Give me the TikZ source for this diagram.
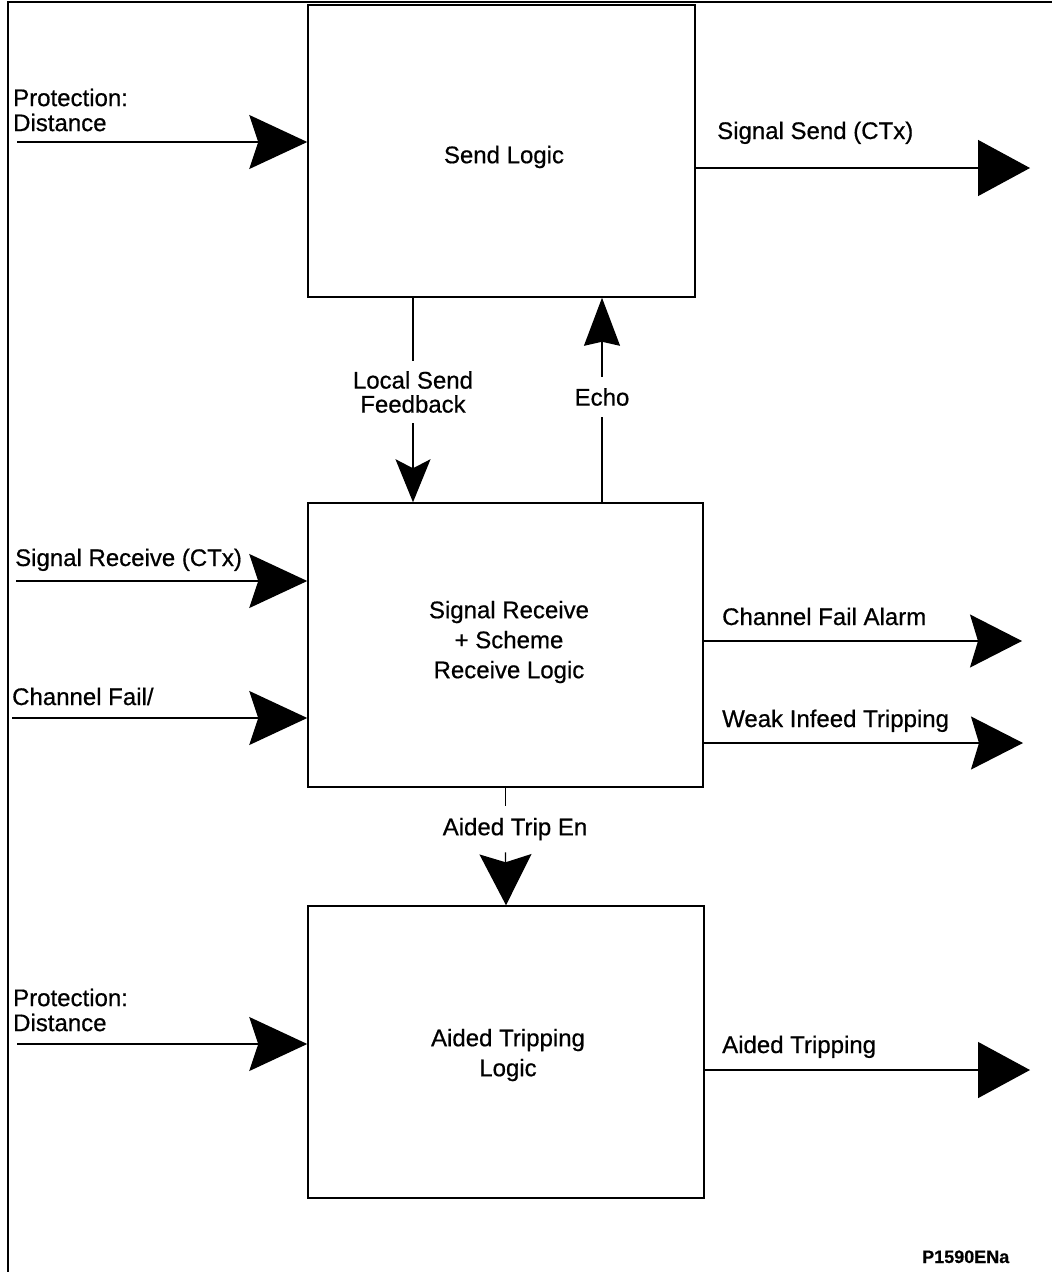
\documentclass[tikz,border=0pt]{standalone}
\usepackage{fontspec}
\setmainfont[FakeBold=0.6]{Liberation Sans}
\usetikzlibrary{arrows.meta}

\tikzset{
  blk/.style={draw, line width=1.5pt, font=\fontsize{24}{30}\selectfont, align=center},
  lbl/.style={font=\fontsize{24}{25}\selectfont, align=left, inner sep=0pt},
  mid/.style={font=\fontsize{24}{24}\selectfont, align=center, inner sep=10pt},
  sig/.style={line width=1.3pt},
  inarr/.style={sig, -{Stealth[length=58pt, width=54pt, inset=9pt]}},
  outarr/.style={sig, -{Triangle[length=52pt, width=56pt]}},
  alarr/.style={sig, -{Stealth[length=52pt, width=53pt, inset=8pt]}},
  fbarr/.style={sig, -{Stealth[length=43pt, width=35pt, inset=9pt]}},
  echoarr/.style={sig, -{Stealth[length=48pt, width=36pt, inset=4pt]}},
  atearr/.style={sig, -{Stealth[length=51pt, width=52pt, inset=8pt]}}
}

\begin{document}
\begin{tikzpicture}[x=1pt, y=-1pt]
\useasboundingbox (0,0) rectangle (1052,1272);
\draw [line width=1.5pt] (1052,2) -- (8,2) -- (8,1272);

\node [blk, minimum width=387pt, minimum height=292pt] (send) at (501.5,151) {};
\node [blk, minimum width=395pt, minimum height=284pt] (recv) at (505.5,645) {};
\node [blk, minimum width=396pt, minimum height=292pt] (aided) at (506,1052) {};
\node [blk, draw=none] (sendtxt) at (504,157) {Send Logic};
\node [blk, draw=none] (recvtxt) at (509,642) {Signal Receive\\+ Scheme\\Receive Logic};
\node [blk, draw=none] (aidedtxt) at (508,1055) {Aided Tripping\\Logic};

\node [lbl, anchor=west] (pd1) at (13,110) {Protection:\\Distance};
\node [lbl, anchor=base west] (srx) at (15,566) {Signal Receive (CTx)};
\node [lbl, anchor=base west] (cfl) at (12,705) {Channel Fail/};
\node [lbl, anchor=west] (pd2) at (13,1010) {Protection:\\Distance};

\node [lbl, anchor=base west] (ssd) at (717,139) {Signal Send (CTx)};
\node [lbl, anchor=base west] (cfa) at (722,625) {Channel Fail Alarm};
\node [lbl, anchor=base west] (wif) at (722,727) {Weak Infeed Tripping};
\node [lbl, anchor=base west] (atr) at (722,1053) {Aided Tripping};

\node [mid] (lsf) at (413,392) {Local Send\\Feedback};
\node [mid, inner sep=11pt] (echo) at (602,397) {Echo};
\node [mid, inner sep=12pt] (ate) at (515,829) {Aided Trip En};

\node [font=\bfseries\fontsize{18}{18}\selectfont, anchor=base west, inner sep=0pt] (ref) at (922,1263) {P1590ENa};

\coordinate (pd1in) at (17,142);
\coordinate (srxin) at (16,581);
\coordinate (cflin) at (12,718);
\coordinate (pd2in) at (17,1044);
\coordinate (ssdout) at (1030,168);
\coordinate (cfaout) at (1022,641);
\coordinate (wifout) at (1023,743);
\coordinate (atrout) at (1030,1070);

\draw [inarr] (pd1in) -- (pd1in -| send.west);
\draw [inarr] (srxin) -- (srxin -| recv.west);
\draw [inarr] (cflin) -- (cflin -| recv.west);
\draw [inarr] (pd2in) -- (pd2in -| aided.west);

\draw [outarr] (send.east |- ssdout) -- (ssdout);
\draw [alarr] (recv.east |- cfaout) -- (cfaout);
\draw [alarr] (recv.east |- wifout) -- (wifout);
\draw [outarr] (aided.east |- atrout) -- (atrout);

\draw [sig] (send.south -| lsf) -- (lsf);
\draw [fbarr] (lsf) -- (recv.north -| lsf);
\draw [sig] (recv.north -| echo) -- (echo);
\draw [echoarr] (echo) -- (send.south -| echo);
\draw [sig] (recv.south) -- (recv.south |- ate.north);
\draw [atearr] (recv.south |- ate.south) -- (aided.north);
\end{tikzpicture}
\end{document}
